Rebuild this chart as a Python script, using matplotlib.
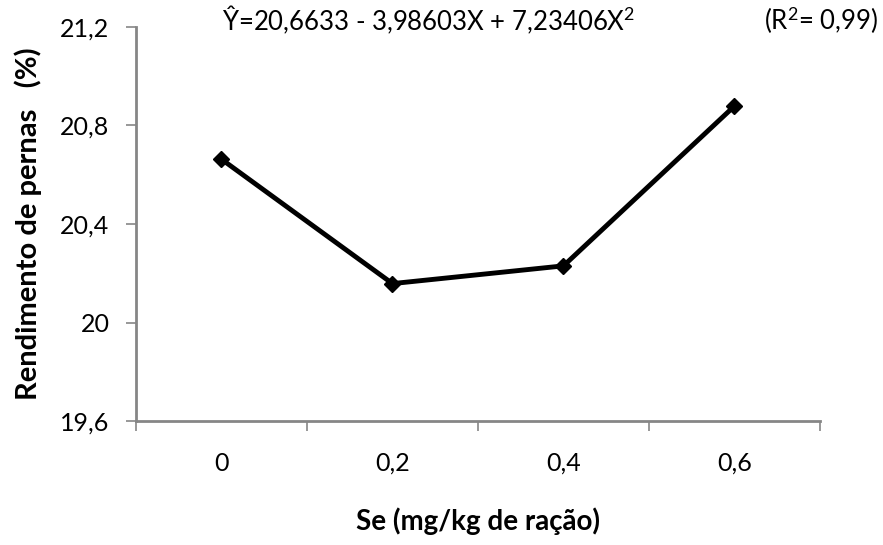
import matplotlib
matplotlib.use("Agg")
import matplotlib.pyplot as plt

# data
se_levels = ["0", "0,2", "0,4", "0,6"]
rendimento = [20.663, 20.158, 20.230, 20.879]
y_ticks = [19.6, 20.0, 20.4, 20.8, 21.2]
y_labels = ["19,6", "20", "20,4", "20,8", "21,2"]

plt.rcParams['font.family'] = ['Lato', 'DejaVu Sans']
plt.rcParams['mathtext.fontset'] = 'custom'
plt.rcParams['mathtext.rm'] = 'Lato'
plt.rcParams['mathtext.it'] = 'Lato:italic'
plt.rcParams['mathtext.bf'] = 'Lato:bold'

fig = plt.figure(figsize=(8.83, 5.45), dpi=100)
ax = fig.add_axes([0.154, 0.2275, 0.7746, 0.723])

x = list(range(len(se_levels)))
ax.plot(x, rendimento, color="black", lw=3.5, marker="D", ms=8,
        markerfacecolor="black", markeredgecolor="black", solid_joinstyle="miter")

ax.set_xlim(-0.5, len(se_levels) - 0.5)
ax.set_ylim(19.6, 21.2)
ax.set_yticks(y_ticks)
ax.set_yticklabels(y_labels, fontsize=18)

# categories sit between the ticks
ax.set_xticks([i - 0.5 for i in range(len(se_levels) + 1)])
ax.set_xticklabels([])
ax.set_xticks(x, minor=True)
ax.set_xticklabels(se_levels, minor=True, fontsize=18)
ax.tick_params(axis="x", which="minor", length=0, pad=22)
ax.tick_params(axis="x", which="major", length=7, width=1.2, color="#868686")
ax.tick_params(axis="y", length=7, width=1.2, color="#868686", pad=12)

for s in ["top", "right"]:
    ax.spines[s].set_visible(False)
for s in ["left", "bottom"]:
    ax.spines[s].set_color("#868686")
    ax.spines[s].set_linewidth(2)

ax.set_xlabel("Se (mg/kg de ração)", fontsize=20, fontweight="bold", labelpad=24)
ax.set_ylabel("Rendimento de pernas   (%)", fontsize=21, fontweight="bold", labelpad=13)

fig.text(222 / 883, 1 - 20 / 545, r"Ŷ=20,6633 - 3,98603X + 7,23406X$^{\mathrm{2}}$",
         fontsize=18.5, va="center", ha="left")
fig.text(878 / 883, 1 - 20 / 545, r"(R$^{\mathrm{2}}$= 0,99)", fontsize=18.5,
         va="center", ha="right")

fig.savefig("out.png", dpi=100)
